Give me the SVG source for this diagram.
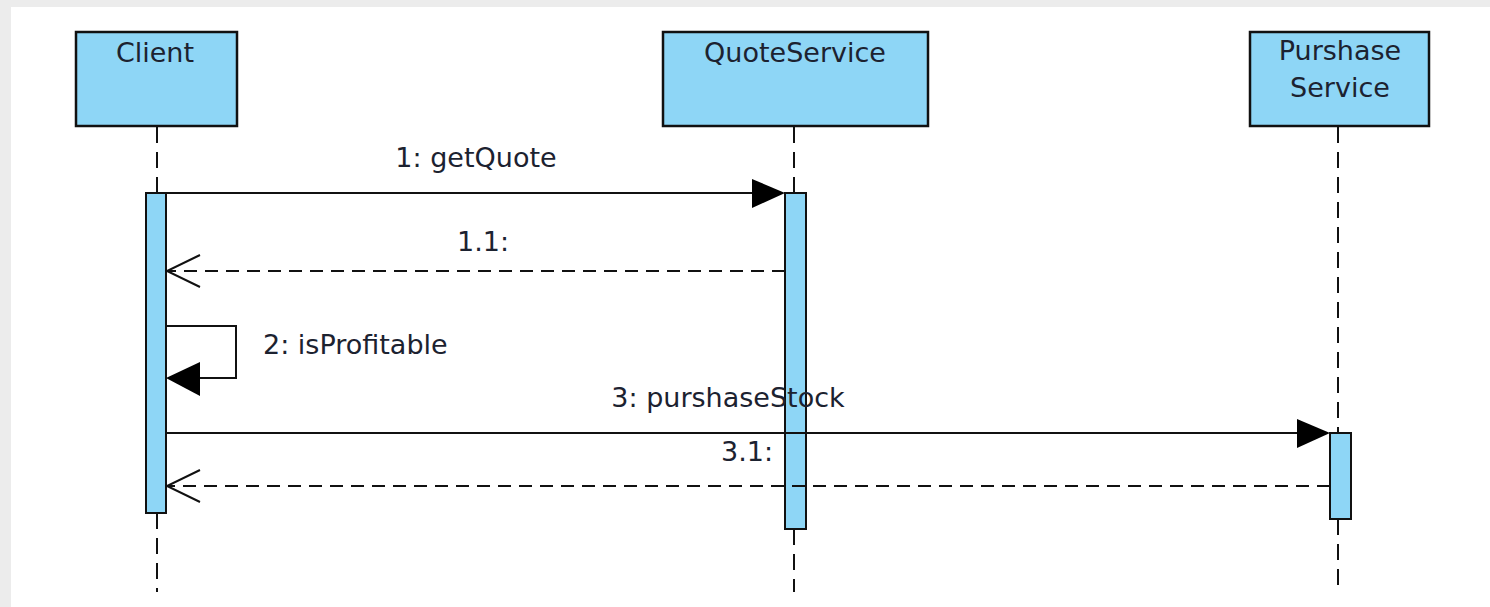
<svg xmlns="http://www.w3.org/2000/svg" width="1490" height="607" viewBox="0 0 1490 607">
<style>
.box{fill:#8ed6f6;stroke:#111;stroke-width:2.5}
.act{fill:#8ed6f6;stroke:#111;stroke-width:2}
.life{stroke:#111;stroke-width:2;stroke-dasharray:16 9;fill:none}
.msg{stroke:#111;stroke-width:2;fill:none}
.ret{stroke:#111;stroke-width:2;stroke-dasharray:13 8;fill:none}
.head{fill:#000}
.open{stroke:#111;stroke-width:2;fill:none}
text{font-family:"DejaVu Sans","Liberation Sans",sans-serif;font-size:27px;fill:#1c2230}
.c{text-anchor:middle}
</style>
<rect x="0" y="0" width="1490" height="607" fill="#ececec"/>
<rect x="11" y="7" width="1479" height="600" fill="#ffffff"/>
<g id="lifelines">
<line class="life" x1="157" y1="127" x2="157" y2="193"/>
<line class="life" x1="157" y1="513" x2="157" y2="592"/>
<line class="life" x1="794" y1="127" x2="794" y2="193"/>
<line class="life" x1="794" y1="529" x2="794" y2="592"/>
<line class="life" x1="1338" y1="127" x2="1338" y2="433"/>
<line class="life" x1="1338" y1="519" x2="1338" y2="592"/>
</g>
<g id="client">
<rect class="box" x="76" y="32" width="161" height="94"/>
<text class="c" x="155" y="62">Client</text>
<rect class="act" x="146" y="193" width="20" height="320"/>
</g>
<g id="quoteservice">
<rect class="box" x="663" y="32" width="265" height="94"/>
<text class="c" x="795" y="62">QuoteService</text>
<rect class="act" x="785" y="193" width="21" height="336"/>
</g>
<g id="purshaseservice">
<rect class="box" x="1250" y="32" width="179" height="94"/>
<text class="c" x="1340" y="60">Purshase</text>
<text class="c" x="1340" y="97">Service</text>
<rect class="act" x="1330" y="433" width="21" height="86"/>
</g>
<g id="connectors">
<line class="msg" x1="166" y1="193" x2="760" y2="193"/>
<polygon class="head" points="785,193 752,179 752,208"/>
<text class="c" x="476" y="167">1: getQuote</text>
<line class="ret" x1="785" y1="271" x2="168" y2="271"/>
<polyline class="open" points="200,255 167,271 200,287"/>
<text class="c" x="483" y="251">1.1:</text>
<polyline class="msg" points="166,326 236,326 236,378 190,378"/>
<polygon class="head" points="166,378 200,362 200,396"/>
<text x="263" y="354">2: isProfitable</text>
<line class="msg" x1="166" y1="433" x2="1305" y2="433"/>
<polygon class="head" points="1330,433 1297,419 1297,448"/>
<text class="c" x="728" y="407">3: purshaseStock</text>
<line class="ret" x1="1330" y1="486" x2="168" y2="486"/>
<polyline class="open" points="200,470 167,486 200,502"/>
<text class="c" x="747" y="461">3.1:</text>
</g>
</svg>
